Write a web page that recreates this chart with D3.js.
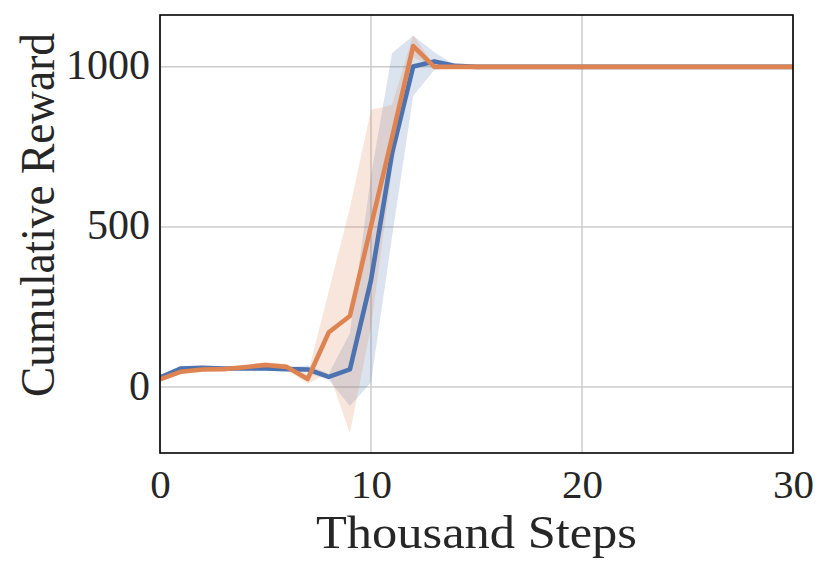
<!DOCTYPE html>
<html>
<head>
<meta charset="utf-8">
<script src="https://cdn.jsdelivr.net/npm/d3@7/dist/d3.min.js"></script>
<style>
  html, body { margin: 0; padding: 0; background: #ffffff; }
  svg { display: block; }
  text { font-family: "Liberation Serif", "DejaVu Serif", serif; fill: #262626; }
</style>
</head>
<body>
<svg id="chart" width="830" height="571"></svg>
<script>
// ---- data ----
const steps = [0,1,2,3,4,5,6,7,8,9,10,11,12,13,14,15,16,17,18,19,20,21,22,23,24,25,26,27,28,29,30];

const blueMean  = [30, 58, 60, 58, 58, 58, 56, 55, 32, 55, 334, 731, 1001, 1017, 1003, 1000,1000,1000,1000,1000,1000,1000,1000,1000,1000,1000,1000,1000,1000,1000,1000];
const blueLow   = [25, 53, 55, 53, 53, 52, 50, 45, 22, -59, 15, 470, 910, 990, 998, 1000,1000,1000,1000,1000,1000,1000,1000,1000,1000,1000,1000,1000,1000,1000,1000];
const blueHigh  = [35, 64, 65, 63, 63, 64, 62, 67, 42, 168, 660, 1043, 1097, 1046, 1005, 1000,1000,1000,1000,1000,1000,1000,1000,1000,1000,1000,1000,1000,1000,1000,1000];

const orangeMean = [24, 48, 55, 56, 62, 69, 63, 25, 171, 222, 503, 780, 1065, 1000, 1000, 1000,1000,1000,1000,1000,1000,1000,1000,1000,1000,1000,1000,1000,1000,1000,1000];
const orangeLow  = [20, 43, 50, 51, 56, 60, 55, 10, 45, -144, 190, 680, 1030, 998, 1000, 1000,1000,1000,1000,1000,1000,1000,1000,1000,1000,1000,1000,1000,1000,1000,1000];
const orangeHigh = [28, 53, 60, 61, 68, 78, 72, 40, 300, 560, 866, 881, 1100, 1002, 1000, 1000,1000,1000,1000,1000,1000,1000,1000,1000,1000,1000,1000,1000,1000,1000,1000];

const xTicks = [0, 10, 20, 30];
const yTicks = [0, 500, 1000];
const xLabel = "Thousand Steps";
const yLabel = "Cumulative Reward";

// ---- layout ----
const svg = d3.select("#chart");
const mLeft = 160, mRight = 793, mTop = 15, mBottom = 453;

const x = d3.scaleLinear().domain([0, 30]).range([mLeft, mRight]);
const y = d3.scaleLinear().domain([-206, 1162]).range([mBottom, mTop]);

// grid
const g = svg.append("g");
g.selectAll(".gx").data(xTicks).join("line")
  .attr("x1", d => x(d)).attr("x2", d => x(d))
  .attr("y1", mTop).attr("y2", mBottom)
  .attr("stroke", "#cccccc").attr("stroke-width", 1.5);
g.selectAll(".gy").data(yTicks).join("line")
  .attr("x1", mLeft).attr("x2", mRight)
  .attr("y1", d => y(d)).attr("y2", d => y(d))
  .attr("stroke", "#cccccc").attr("stroke-width", 1.5);

const series = [
  {mean: blueMean, low: blueLow, high: blueHigh, color: "#4c72b0"},
  {mean: orangeMean, low: orangeLow, high: orangeHigh, color: "#dd8452"}
];

const area = d3.area().x(d => x(d.t)).y0(d => y(d.lo)).y1(d => y(d.hi));
const line = d3.line().x(d => x(d.t)).y(d => y(d.m));

svg.append("clipPath").attr("id", "clip")
  .append("rect").attr("x", mLeft).attr("y", mTop).attr("width", mRight - mLeft).attr("height", mBottom - mTop);

const plot = svg.append("g").attr("clip-path", "url(#clip)");
series.forEach(s => {
  const pts = steps.map((t, i) => ({t, m: s.mean[i], lo: s.low[i], hi: s.high[i]}));
  plot.append("path").datum(pts).attr("d", area)
    .attr("fill", s.color).attr("fill-opacity", 0.2).attr("stroke", "none");
});
series.forEach(s => {
  const pts = steps.map((t, i) => ({t, m: s.mean[i]}));
  plot.append("path").datum(pts).attr("d", line)
    .attr("fill", "none").attr("stroke", s.color).attr("stroke-width", 4.6)
    .attr("stroke-linejoin", "round").attr("stroke-linecap", "butt");
});

// frame
svg.append("rect").attr("x", mLeft).attr("y", mTop)
  .attr("width", mRight - mLeft).attr("height", mBottom - mTop)
  .attr("fill", "none").attr("stroke", "#000000").attr("stroke-width", 1.6);

// axes via d3 axis (no tick lines)
const xAxis = svg.append("g").attr("transform", `translate(0,${mBottom})`)
  .call(d3.axisBottom(x).tickValues(xTicks).tickSize(0).tickPadding(45).tickFormat(d3.format("d")));
xAxis.select(".domain").remove();
xAxis.selectAll("text").attr("font-size", 41).attr("dy", 0)
  .style("font-family", '"Liberation Serif", serif').attr("fill", "#262626");

const yAxis = svg.append("g").attr("transform", `translate(${mLeft},0)`)
  .call(d3.axisLeft(y).tickValues(yTicks).tickSize(0).tickPadding(10).tickFormat(d3.format("d")));
yAxis.select(".domain").remove();
yAxis.selectAll("text").attr("font-size", 42).attr("dy", 12)
  .style("font-family", '"Liberation Serif", serif').attr("fill", "#262626");

// labels
svg.append("text").attr("x", (mLeft + mRight) / 2).attr("y", 548)
  .attr("text-anchor", "middle").attr("font-size", 47)
  .attr("textLength", 321).attr("lengthAdjust", "spacingAndGlyphs")
  .text(xLabel);
svg.append("text").attr("transform", `translate(54,215) rotate(-90)`)
  .attr("text-anchor", "middle").attr("font-size", 49)
  .attr("textLength", 364).attr("lengthAdjust", "spacingAndGlyphs")
  .text(yLabel);
</script>
</body>
</html>
